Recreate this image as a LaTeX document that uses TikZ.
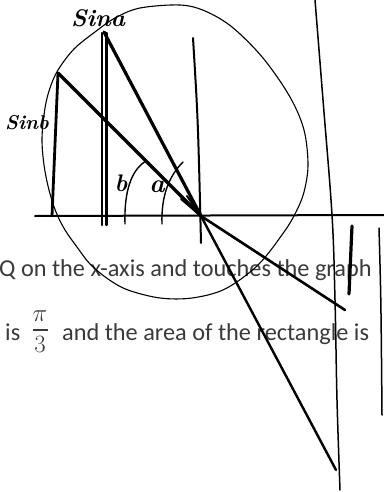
\documentclass[tikz,border=0pt]{standalone}
\usepackage{fontspec}
\newfontfamily\docfont{Carlito}
\definecolor{doctext}{RGB}{58,58,58}
\tikzset{
  ink/.style={line width=2pt, line cap=round, line join=round},
  thinink/.style={line width=1.1pt, line cap=round, line join=round},
  heavyink/.style={line width=3.2pt, line cap=round, line join=round},
  doc/.style={text=doctext, inner sep=0pt, font=\docfont\fontsize{24.3}{28}\selectfont},
  hand/.style={inner sep=0pt, font=\bfseries\itshape\fontsize{#1}{#1}\selectfont},
}
\begin{document}
\begin{tikzpicture}[x=1pt,y=-1pt]
\useasboundingbox (0,0) rectangle (383,492);
% ---- printed text ----
\node[doc, anchor=base west] (line1) at (-1,276) {Q on the x-axis and touches the graph};
\node[doc, anchor=base west] (is) at (5,340) {is};
\node[text=doctext, inner sep=0pt, font=\fontsize{24}{24}\selectfont] (pi) at (40,316) {$\pi$};
\draw[doctext, line width=1.3pt] (33,330) -- (48,330);
\node[text=doctext, inner sep=0pt, font=\fontsize{23}{23}\selectfont] (three) at (40,344) {$3$};
\node[doc, anchor=base west] (line2) at (62,340) {and the area of the rectangle is};
% ---- key points ----
\coordinate (O) at (201,216);
\coordinate (A1) at (35,216);
\coordinate (A2) at (384,215);
\coordinate (P) at (58,73);
\coordinate (Pb) at (52,216);
\coordinate (Q) at (104,32);
\coordinate (R1) at (345,310);
\coordinate (R2) at (336,470);
% ---- circle ----
\draw[thinink] plot[smooth cycle, tension=0.55] coordinates {
 (140,8) (180,5) (205,11) (232,27) (263,58) (290,97) (304,130) (308,165)
 (304,192) (296,212) (284,232) (258,265) (225,289) (192,298) (160,298)
 (128,290) (108,279) (90,264) (77,247) (65,230) (56,212) (49,190) (44,165)
 (42,138) (45,108) (50,88) (58,70) (74,49) (95,32) (115,18)};
% ---- axis ----
\draw[ink] (A1) -- (A2);
% ---- verticals ----
\draw[heavyink, line width=2.8pt] (P) -- (Pb);
\draw[ink, line width=2.4pt] (102,33) -- (102,225);
\draw[ink, line width=2.4pt] (106.5,33) -- (106.5,225);
\draw[ink] (193,38) .. controls (198,120) .. (201,243);
% ---- hypotenuses ----
\draw[heavyink] (P) -- (O);
\draw[heavyink] (Q) -- (O);
\draw[ink] (181,199) -- (O);
\draw[ink] (187,196) -- (O);
% ---- angle arcs ----
\draw[thinink, line width=1.4pt] (125,224) .. controls (124,192) and (131,170) .. (146,161);
\draw[thinink, line width=1.4pt] (162,224) .. controls (161,196) and (169,176) .. (183,162);
\node[hand=24] (blabel) at (121,183) {b};
\node[hand=26] (alabel) at (157,187) {a};
% ---- sine labels ----
\node[hand=24] (sina) at (98,18) {Sina};
\node[hand=20] (sinb) at (27,123) {Sinb};
% ---- lines below axis ----
\draw[heavyink, line width=2.6pt] (O) -- (R1);
\draw[ink, line width=2.4pt] (O) -- (R2);
% ---- right-hand strokes ----
\draw[thinink, line width=1.5pt] plot[smooth, tension=0.6] coordinates {(315,0) (323,100) (332,215) (335,300) (337,400) (340,490)};
\draw[heavyink] (352,226) -- (349,294);
\draw[thinink, line width=1.5pt] (379,228) .. controls (381,300) .. (382,415);
\end{tikzpicture}
\end{document}
